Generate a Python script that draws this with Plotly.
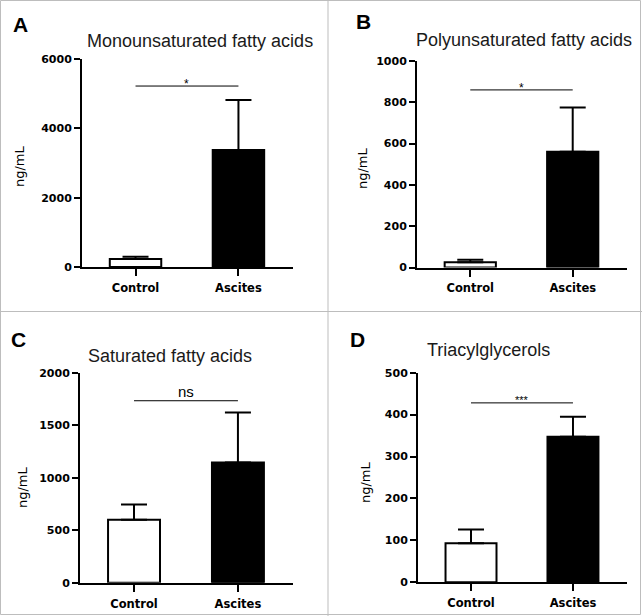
import plotly.graph_objects as go

# ---------------- data ----------------
categories = ["Control", "Ascites"]
panel_letters = ["A", "B", "C", "D"]
panel_titles = ["Monounsaturated fatty acids", "Polyunsaturated fatty acids",
                "Saturated fatty acids", "Triacylglycerols"]
mufa_mean = [230, 3375]
mufa_sd = [65, 1440]
pufa_mean = [25, 560]
pufa_sd = [12, 215]
sfa_mean = [600, 1145]
sfa_sd = [145, 475]
tag_mean = [93, 347]
tag_sd = [33, 48]
y_max = [6000, 1000, 2000, 500]
y_dtick = [2000, 200, 500, 100]
sig_labels = ["*", "*", "ns", "***"]
sig_levels = [5220, 860, 1733, 428]
y_label = "ng/mL"

means = [mufa_mean, pufa_mean, sfa_mean, tag_mean]
sds = [mufa_sd, pufa_sd, sfa_sd, tag_sd]

# ---------------- layout helpers (pixels) ----------------
W, H = 642, 616
def px(x):
    return x / W
def py(y):
    return 1 - y / H

boxes = [(82, 293, 59, 267), (417, 627, 61, 267.5),
         (80, 293, 372.7, 582.7), (418, 627, 372.7, 582.3)]
title_pos = [(200, 41), (524, 40), (170, 356), (488, 350)]
letter_pos = [(20, 24), (363, 22), (18, 339), (358, 339)]
ylabel_pos = [(20, 166), (362, 168), (22, 487), (365, 482)]
sig_font = [12, 12, 15, 11]
sig_shift = [2, 2, 9, 3]

ytick_font = dict(family="DejaVu Sans", size=11, color="black", weight="bold")
xtick_font = dict(family="DejaVu Sans", size=11.5, color="black", weight="bold")

fig = go.Figure()
layout = dict(width=W, height=H,
              margin=dict(l=0, r=0, t=0, b=0, pad=0, autoexpand=False),
              paper_bgcolor="white", plot_bgcolor="white", showlegend=False)
annotations = []
shapes = []

for i in range(4):
    xn = "x" if i == 0 else f"x{i+1}"
    yn = "y" if i == 0 else f"y{i+1}"
    xk = "xaxis" if i == 0 else f"xaxis{i+1}"
    yk = "yaxis" if i == 0 else f"yaxis{i+1}"
    x0, x1, yt, yb = boxes[i]
    fig.add_trace(go.Bar(
        x=categories, y=means[i], xaxis=xn, yaxis=yn, width=0.5,
        marker=dict(color=["white", "black"], line=dict(color="black", width=2)),
        error_y=dict(type="data", array=sds[i], arrayminus=[0, 0], symmetric=False,
                     color="black", thickness=2, width=13),
        hoverinfo="skip"))
    layout[xk] = dict(domain=[px(x0), px(x1)], anchor=yn, type="category",
                      range=[-0.52, 1.53], showline=True, linecolor="black",
                      linewidth=2, ticks="outside", ticklen=7, tickwidth=2,
                      tickcolor="black", tickfont=xtick_font, showgrid=False,
                      zeroline=False, fixedrange=True, automargin=False,
                      ticklabelstandoff=2)
    layout[yk] = dict(domain=[py(yb), py(yt)], anchor=xn, range=[0, y_max[i]],
                      tickmode="linear", tick0=0, dtick=y_dtick[i],
                      showline=True, linecolor="black", linewidth=2,
                      ticks="outside", ticklen=6, tickwidth=2, tickcolor="black",
                      tickfont=ytick_font, showgrid=False, zeroline=False,
                      fixedrange=True, automargin=False)
    tx, ty = title_pos[i]
    annotations.append(dict(text=panel_titles[i], x=px(tx), y=py(ty), xref="paper",
                            yref="paper", xanchor="center", yanchor="middle",
                            showarrow=False,
                            font=dict(family="Liberation Sans", size=18, color="#1a1a1a")))
    lx, ly = letter_pos[i]
    annotations.append(dict(text=f"<b>{panel_letters[i]}</b>", x=px(lx), y=py(ly),
                            xref="paper", yref="paper", xanchor="center",
                            yanchor="middle", showarrow=False,
                            font=dict(family="Liberation Sans", size=21, color="black")))
    yx, yy = ylabel_pos[i]
    annotations.append(dict(text=y_label, x=px(yx), y=py(yy), xref="paper",
                            yref="paper", xanchor="center", yanchor="middle",
                            textangle=-90, showarrow=False,
                            font=dict(family="DejaVu Sans", size=13, color="black")))
    shapes.append(dict(type="line", xref=xn, yref=yn, x0=0, x1=1,
                       y0=sig_levels[i], y1=sig_levels[i],
                       line=dict(color="black", width=1)))
    annotations.append(dict(text=sig_labels[i], x=0.5, y=sig_levels[i], xref=xn,
                            yref=yn, xanchor="center", yanchor="middle",
                            yshift=sig_shift[i], showarrow=False,
                            font=dict(family="Liberation Sans", size=sig_font[i],
                                      color="black")))

border = dict(color="#bdbdbd", width=1)
shapes.append(dict(type="rect", xref="paper", yref="paper", x0=px(0.5), x1=px(W - 1.5),
                   y0=py(H - 1.5), y1=py(0.5), line=border, layer="below"))
shapes.append(dict(type="line", xref="paper", yref="paper", x0=px(328), x1=px(328),
                   y0=0, y1=1, line=border, layer="below"))
shapes.append(dict(type="line", xref="paper", yref="paper", x0=0, x1=1,
                   y0=py(311.5), y1=py(311.5), line=border, layer="below"))

layout["annotations"] = annotations
layout["shapes"] = shapes
fig.update_layout(**layout)

fig.write_html("out.html", config={"displayModeBar": False},
               post_script="document.body.style.margin='0';"
                           "document.body.style.overflow='hidden';")
